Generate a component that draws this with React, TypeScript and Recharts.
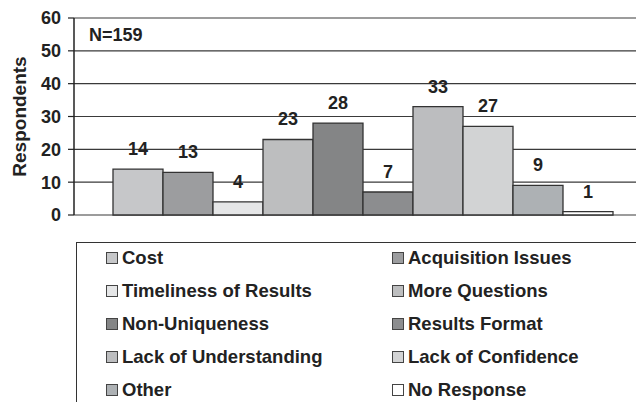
import React from "react";
import {
  BarChart,
  Bar,
  XAxis,
  YAxis,
  CartesianGrid,
  LabelList,
} from "recharts";

const seriesNames: string[] = [
  "Cost",
  "Acquisition Issues",
  "Timeliness of Results",
  "More Questions",
  "Non-Uniqueness",
  "Results Format",
  "Lack of Understanding",
  "Lack of Confidence",
  "Other",
  "No Response",
];

const seriesKeys: string[] = [
  "cost",
  "acquisition",
  "timeliness",
  "moreQuestions",
  "nonUniqueness",
  "resultsFormat",
  "lackUnderstanding",
  "lackConfidence",
  "other",
  "noResponse",
];

const seriesValues: number[] = [14, 13, 4, 23, 28, 7, 33, 27, 9, 1];

const seriesColors: string[] = [
  "#c6c7c9",
  "#9c9d9f",
  "#e5e6e7",
  "#bdbebf",
  "#848586",
  "#8c8d8f",
  "#bcbdbf",
  "#d2d3d4",
  "#adb1b4",
  "#ffffff",
];

const yTicks: number[] = [0, 10, 20, 30, 40, 50, 60];

const row: Record<string, string | number> = { group: "" };
seriesKeys.forEach((k, i) => {
  row[k] = seriesValues[i];
});
const data = [row];

const FONT = '"Liberation Sans", Arial, Helvetica, sans-serif';
const INK = "#222";

const YLabel = (props: any) => {
  const vb = props.viewBox || { x: 0, y: 18, height: 197 };
  const cx = vb.x + 19;
  const cy = vb.y + vb.height / 2;
  return (
    <text
      x={cx}
      y={cy}
      transform={`rotate(-90 ${cx} ${cy})`}
      textAnchor="middle"
      dominantBaseline="central"
      fontFamily={FONT}
      fontWeight="bold"
      fontSize={19}
      fill={INK}
    >
      Respondents
    </text>
  );
};

const App: React.FC = () => {
  return (
    <div
      style={{
        position: "absolute",
        left: 0,
        top: 0,
        width: 636,
        height: 402,
        overflow: "hidden",
        background: "#fff",
        fontFamily: FONT,
      }}
    >
      <BarChart
        width={650}
        height={402}
        data={data}
        margin={{ top: 18, right: 2, bottom: 187, left: 0 }}
        barCategoryGap={39}
        barGap={0}
      >
        <CartesianGrid vertical={false} stroke="#3a3a3a" strokeWidth={1.2} />
        <XAxis
          dataKey="group"
          height={0}
          tick={false}
          tickLine={false}
          axisLine={{ stroke: "#222", strokeWidth: 1.5 }}
        />
        <YAxis
          width={74}
          domain={[0, 60]}
          ticks={yTicks}
          interval={0}
          tickSize={6}
          tickMargin={7}
          axisLine={{ stroke: "#222", strokeWidth: 1.5 }}
          tickLine={{ stroke: "#222", strokeWidth: 1.2 }}
          tick={{
            fill: INK,
            fontSize: 18,
            fontWeight: "bold",
            fontFamily: FONT,
          }}
          label={{ content: YLabel }}
        />
        {seriesKeys.map((k, i) => (
          <Bar
            key={k}
            dataKey={k}
            name={seriesNames[i]}
            fill={seriesColors[i]}
            stroke="#333"
            strokeWidth={1.3}
            isAnimationActive={false}
          >
            <LabelList
              dataKey={k}
              position="top"
              offset={14}
              fill={INK}
              fontSize={18}
              fontWeight="bold"
              fontFamily={FONT}
            />
          </Bar>
        ))}
      </BarChart>

      <div
        style={{
          position: "absolute",
          left: 89,
          top: 25,
          fontSize: 18,
          fontWeight: "bold",
          color: INK,
          lineHeight: "20px",
        }}
      >
        N=159
      </div>

      <div
        style={{
          position: "absolute",
          left: 76,
          top: 242,
          width: 600,
          height: 200,
          border: "1px solid #333",
          boxSizing: "border-box",
          paddingLeft: 29,
          paddingTop: 0,
          display: "grid",
          gridTemplateColumns: "286px 286px",
          gridAutoRows: "33px",
        }}
      >
        {seriesNames.map((name, i) => (
          <div
            key={name}
            style={{
              display: "flex",
              alignItems: "center",
              height: 33,
              marginTop: -2,
            }}
          >
            <span
              style={{
                display: "inline-block",
                width: 10,
                height: 10,
                border: "1px solid #444",
                background: seriesColors[i],
                marginRight: 4,
              }}
            />
            <span
              style={{
                fontSize: 18.5,
                fontWeight: "bold",
                color: INK,
                whiteSpace: "nowrap",
              }}
            >
              {name}
            </span>
          </div>
        ))}
      </div>
    </div>
  );
};

export default App;
